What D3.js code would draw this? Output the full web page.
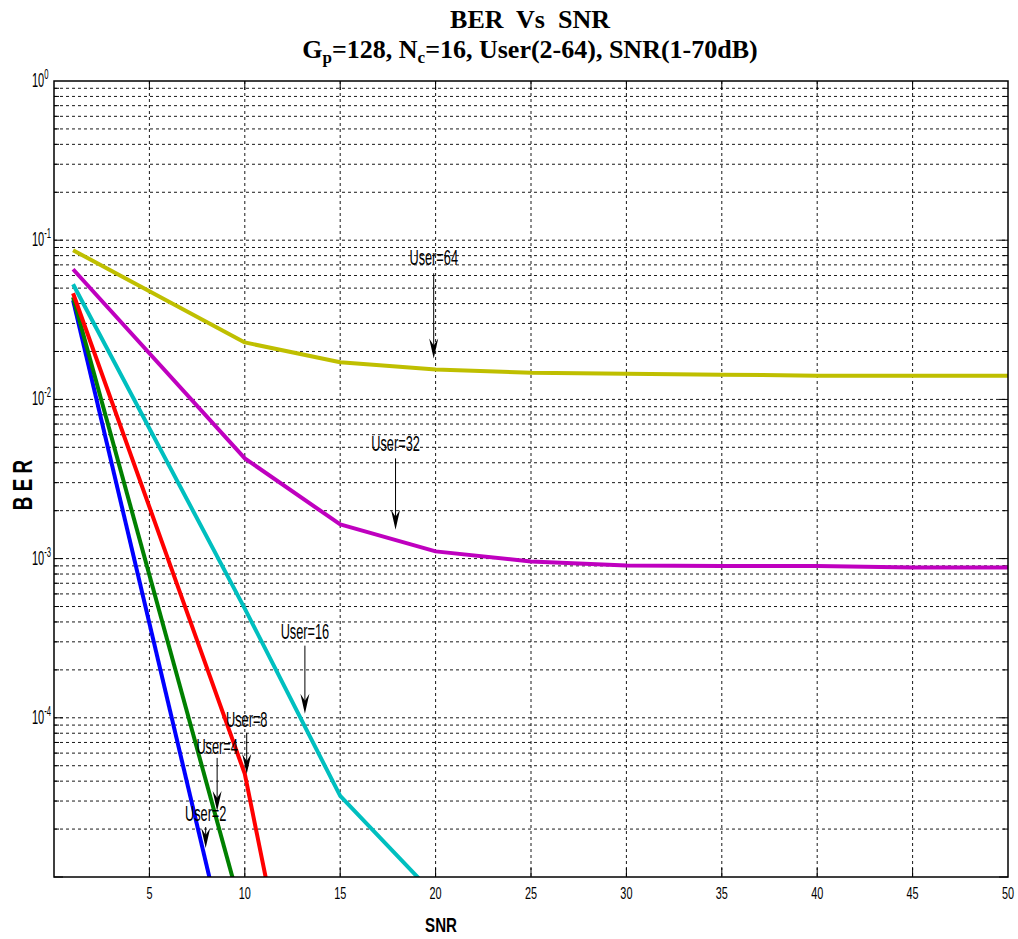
<!DOCTYPE html>
<html><head><meta charset="utf-8">
<script src="https://cdn.jsdelivr.net/npm/d3@7"></script>
<style>body{margin:0;background:#fff}svg{display:block}</style>
</head><body>
<svg id="chart" width="1018" height="939"></svg>
<script>
// ---------- data ----------
const snr = [1, 10, 15, 20, 25, 30, 35, 40, 45, 50];
const user2  = [0.0420, 1.14e-6];
const user4  = [0.0438, 5.2e-6];
const user8  = [0.0464, 4.44e-5, 4.8e-8];
const user16 = [0.0529, 4.85e-4, 3.23e-5, 7.6e-6];
const user32 = [0.0657, 4.26e-3, 1.64e-3, 1.11e-3, 9.58e-4, 9.04e-4, 9.0e-4, 9.0e-4, 8.8e-4, 8.8e-4];
const user64 = [0.0865, 0.0228, 0.0171, 0.0154, 0.0147, 0.0145, 0.0143, 0.0141, 0.0141, 0.0141];
const seriesNames = ["User=2", "User=4", "User=8", "User=16", "User=32", "User=64"];
const seriesValues = [user2, user4, user8, user16, user32, user64];
const seriesColors = ["#0000ff", "#008000", "#ff0000", "#00bfbf", "#bf00bf", "#bfbf00"];
const xTicks = [5, 10, 15, 20, 25, 30, 35, 40, 45, 50];
const yDecades = [-5, -4, -3, -2, -1, 0];
const yTickExp = ["-4", "-3", "-2", "-1", "0"];
// annotation: label, SNR position, BER of text baseline, arrow start, arrow tip
const annLabels = ["User=64", "User=32", "User=16", "User=8", "User=4", "User=2"];
const annSnr    = [19.9, 17.9, 13.15, 10.1, 8.55, 7.95];
const annText   = [0.0697, 0.00471, 3.14e-4, 8.77e-5, 5.94e-5, 2.25e-5];
const annStart  = [0.0620, 0.00426, 2.84e-4, 8.05e-5, 5.6e-5, 2.06e-5];
const annTip    = [0.0181, 0.00152, 1.06e-4, 4.44e-5, 2.6e-5, 1.52e-5];

// ---------- layout ----------
const L = 54, R = 1008, T = 81, B = 877;
const svg = d3.select("#chart");
const x = d3.scaleLinear().domain([0, 50]).range([L, R]);
const y = d3.scaleLog().domain([1e-5, 1]).range([B, T]);
const sans = "'Liberation Sans', Arial, sans-serif";
const serif = "'Liberation Serif', 'Times New Roman', serif";

function ctext(px, py, str, size, sx, anchor, weight) {
  return svg.append("text")
    .attr("transform", `translate(${px},${py}) scale(${sx},1)`)
    .attr("font-family", sans).attr("font-size", size)
    .attr("font-weight", weight || "normal")
    .attr("text-anchor", anchor || "middle")
    .attr("fill", "#000").text(str);
}

// grid
const minorVals = [];
yDecades.slice(0, -1).forEach(d => { for (let k = 1; k <= 9; k++) minorVals.push(k * Math.pow(10, d)); });
const grid = svg.append("g").attr("stroke", "#000").attr("stroke-width", 1)
  .attr("stroke-dasharray", "3,3").attr("opacity", 0.9);
grid.selectAll("line.h").data(minorVals.filter(v => v > 1e-5)).enter().append("line")
  .attr("x1", L).attr("x2", R).attr("y1", d => y(d)).attr("y2", d => y(d));
grid.selectAll("line.v").data(xTicks.filter(v => v < 50)).enter().append("line")
  .attr("y1", T).attr("y2", B).attr("x1", d => x(d)).attr("x2", d => x(d));

// ticks (inward)
const tk = svg.append("g").attr("stroke", "#000").attr("stroke-width", 1);
xTicks.filter(v => v < 50).forEach(v => {
  tk.append("line").attr("x1", x(v)).attr("x2", x(v)).attr("y1", B).attr("y2", B - 9);
  tk.append("line").attr("x1", x(v)).attr("x2", x(v)).attr("y1", T).attr("y2", T + 9);
});
minorVals.forEach(v => {
  const len = Math.abs(Math.log10(v) - Math.round(Math.log10(v))) < 1e-9 ? 9 : 5;
  tk.append("line").attr("x1", L).attr("x2", L + len).attr("y1", y(v)).attr("y2", y(v));
  tk.append("line").attr("x1", R).attr("x2", R - len).attr("y1", y(v)).attr("y2", y(v));
});

// clip + lines
svg.append("clipPath").attr("id", "clip").append("rect")
  .attr("x", L).attr("y", T).attr("width", R - L).attr("height", B - T);
const line = d3.line().x((d, i) => x(snr[i])).y(d => y(d));
svg.append("g").attr("clip-path", "url(#clip)")
  .selectAll("path").data(seriesValues).enter().append("path")
  .attr("d", d => line(d)).attr("fill", "none")
  .attr("stroke", (d, i) => seriesColors[i]).attr("stroke-width", 4)
  .attr("stroke-linejoin", "round");

// axis box
svg.append("rect").attr("x", L).attr("y", T).attr("width", R - L).attr("height", B - T)
  .attr("fill", "none").attr("stroke", "#000").attr("stroke-width", 1.5);

// x tick labels
xTicks.forEach(v => ctext(x(v), 899, String(v), 16, 0.68));
// y tick labels
yTickExp.forEach(e => {
  const t = svg.append("text")
    .attr("transform", `translate(32,${y(Math.pow(10, +e)) + 6}) scale(0.55,1)`)
    .attr("font-family", sans).attr("font-size", 20).attr("text-anchor", "start");
  t.append("tspan").text("10");
  t.append("tspan").attr("font-size", 14).attr("dy", -8).text(e);
});

// axis labels
ctext(441, 932, "SNR", 21, 0.72, "middle", "bold");
svg.append("text")
  .attr("transform", "translate(32,485) rotate(-90) scale(0.7,1)")
  .attr("font-family", sans).attr("font-size", 27).attr("font-weight", "bold")
  .attr("text-anchor", "middle").style("white-space", "pre").text("B E R");

// title
svg.append("text").attr("x", 530).attr("y", 28).attr("text-anchor", "middle")
  .attr("font-family", serif).attr("font-weight", "bold").attr("font-size", 26)
  .style("white-space", "pre").text("BER  Vs  SNR");
const t2 = svg.append("text").attr("x", 530).attr("y", 58).attr("text-anchor", "middle")
  .attr("font-family", serif).attr("font-weight", "bold").attr("font-size", 26);
t2.append("tspan").text("G");
t2.append("tspan").attr("font-size", 17).attr("dy", 5).text("p");
t2.append("tspan").attr("dy", -5).text("=128, N");
t2.append("tspan").attr("font-size", 17).attr("dy", 5).text("c");
t2.append("tspan").attr("dy", -5).text("=16, User(2-64), SNR(1-70dB)");

// annotations
annLabels.forEach((lab, i) => {
  const ax = x(annSnr[i]);
  ctext(ax, y(annText[i]), lab, 22, 0.58);
  const y0 = y(annStart[i]), y1 = y(annTip[i]);
  svg.append("line").attr("x1", ax).attr("x2", ax).attr("y1", y0).attr("y2", y1 - 6)
    .attr("stroke", "#000").attr("stroke-width", 1);
  const p = d3.path();
  p.moveTo(ax, y1); p.lineTo(ax - 4.5, y1 - 20); p.lineTo(ax, y1 - 13); p.lineTo(ax + 4.5, y1 - 20); p.closePath();
  svg.append("path").attr("d", p.toString()).attr("fill", "#000");
});
</script>
</body></html>
